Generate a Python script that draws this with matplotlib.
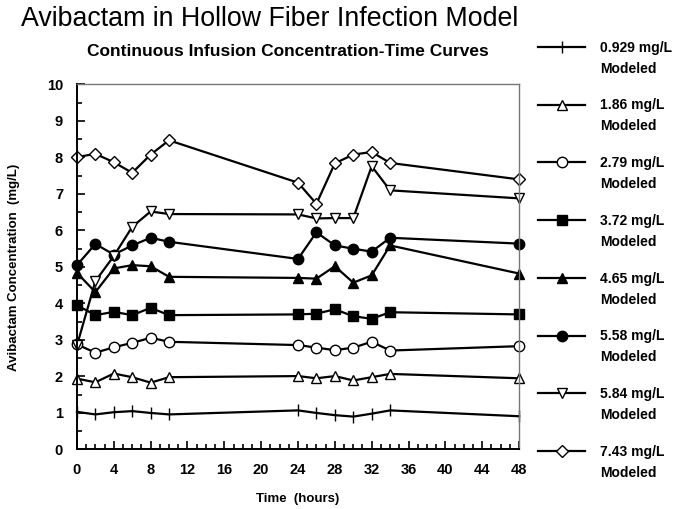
import matplotlib
matplotlib.use("Agg")
import matplotlib.pyplot as plt
from matplotlib.ticker import MultipleLocator

plt.rcParams['font.family'] = ['Liberation Sans', 'DejaVu Sans']

# sampling times (hours)
hours = [0, 2, 4, 6, 8, 10, 24, 26, 28, 30, 32, 34, 48]

# concentrations (mg/L)
c_0929 = [1.03, 0.96, 1.02, 1.05, 1.00, 0.96, 1.07, 1.00, 0.94, 0.90, 0.98, 1.07, 0.91]
c_186 = [1.94, 1.84, 2.08, 1.98, 1.83, 1.98, 2.01, 1.95, 2.01, 1.89, 1.98, 2.07, 1.95]
c_279 = [2.88, 2.65, 2.80, 2.92, 3.06, 2.95, 2.86, 2.79, 2.72, 2.79, 2.95, 2.71, 2.83]
c_372 = [3.95, 3.68, 3.77, 3.68, 3.88, 3.68, 3.70, 3.72, 3.84, 3.65, 3.58, 3.76, 3.70]
c_465 = [4.84, 4.31, 4.96, 5.05, 5.02, 4.73, 4.70, 4.68, 5.02, 4.57, 4.77, 5.59, 4.82]
c_558 = [5.05, 5.63, 5.34, 5.59, 5.80, 5.69, 5.22, 5.95, 5.59, 5.50, 5.42, 5.80, 5.64]
c_584 = [2.85, 4.61, 5.30, 6.10, 6.52, 6.45, 6.44, 6.33, 6.34, 6.34, 7.76, 7.10, 6.88]
c_743 = [8.01, 8.10, 7.87, 7.58, 8.08, 8.47, 7.31, 6.73, 7.84, 8.08, 8.15, 7.85, 7.40]

labels = ['0.929 mg/L', '1.86 mg/L', '2.79 mg/L', '3.72 mg/L',
          '4.65 mg/L', '5.58 mg/L', '5.84 mg/L', '7.43 mg/L']
series = [c_0929, c_186, c_279, c_372, c_465, c_558, c_584, c_743]
markers = ['|', '^', 'o', 's', '^', 'o', 'v', 'D']
filled = [True, False, False, True, True, True, False, False]
msizes = [9, 7.5, 7.5, 7.5, 7.5, 7.5, 7.5, 6]

fig = plt.figure(figsize=(6.75, 5.09), dpi=100)
ax = fig.add_axes([0.114, 0.117, 0.655, 0.717])

for y, lab, m, f, ms in zip(series, labels, markers, filled, msizes):
    ax.plot(hours, y, color='black', lw=1.6, marker=m, ms=ms,
            mfc='black' if f else 'white', mec='black', mew=1.0,
            label=lab, clip_on=False)

ax.set_xlim(0, 48)
ax.set_ylim(0, 10)
ax.xaxis.set_major_locator(MultipleLocator(4))
ax.xaxis.set_minor_locator(MultipleLocator(1))
ax.yaxis.set_major_locator(MultipleLocator(1))
ax.yaxis.set_minor_locator(MultipleLocator(0.5))
ax.tick_params(which='both', direction='in', top=False, right=False,
               width=1.2, labelsize=10.5, pad=10)
ax.tick_params(which='major', length=6)
ax.tick_params(which='minor', length=3.5)
for t in ax.get_xticklabels() + ax.get_yticklabels():
    t.set_fontweight('bold')

ax.spines['left'].set_linewidth(1.4)
ax.spines['bottom'].set_linewidth(1.4)
ax.spines['top'].set_color('#777777')
ax.spines['right'].set_color('#777777')
ax.spines['top'].set_linewidth(1.0)
ax.spines['right'].set_linewidth(1.0)

ax.set_xlabel('Time  (hours)', fontsize=9.5, fontweight='bold', labelpad=11)
ax.set_ylabel('Avibactam Concentration  (mg/L)', fontsize=9.5, fontweight='bold', labelpad=19)

fig.text(0.40, 0.948, 'Avibactam in Hollow Fiber Infection Model',
         ha='center', va='baseline', fontsize=19.3)
fig.text(0.427, 0.89, 'Continuous Infusion Concentration-Time Curves',
         ha='center', va='baseline', fontsize=12.5, fontweight='bold')

leg = ax.legend(loc='upper left', bbox_to_anchor=(0.797, 0.92), frameon=False,
                bbox_transform=fig.transFigure,
                borderpad=0, borderaxespad=0, handlelength=3.4, handletextpad=1.1,
                labelspacing=3.15, prop={'size': 10, 'weight': 'bold'})
for t in leg.get_texts():
    ax.annotate('Modeled', xy=(0, 0), xycoords=t, xytext=(0, -5),
                textcoords='offset points', ha='left', va='top', zorder=10,
                fontsize=10, fontweight='bold', annotation_clip=False)

fig.savefig('out.png', dpi=100)
